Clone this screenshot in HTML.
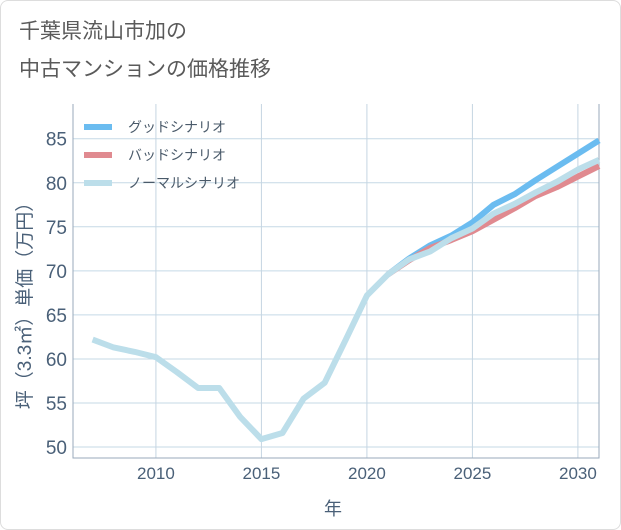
<!DOCTYPE html>
<html><head><meta charset="utf-8"><style>
body{margin:0;background:#fff;font-family:"Liberation Sans","Noto Sans CJK JP",sans-serif}
#wrap{position:relative;width:619px;height:528px;border:1px solid #ddd;border-radius:8px;overflow:hidden}
.t{position:absolute;left:18px;font-size:21px;color:#5a5a5a}
</style></head><body>
<div id="wrap">
<div class="t" style="top:14px">千葉県流山市加の</div>
<div class="t" style="top:52px">中古マンションの価格推移</div>
<svg id="c" width="621" height="530" style="position:absolute;left:0;top:0"></svg>
</div>
<script>
const years=[2007,2008,2009,2010,2011,2012,2013,2014,2015,2016,2017,2018,2019,2020,2021,2022,2023,2024,2025,2026,2027,2028,2029,2030,2031];
const normal=[62.2,61.3,60.8,60.2,58.5,56.7,56.7,53.4,50.9,51.6,55.5,57.3,62.2,67.2,69.6,71.3,72.2,73.7,74.8,76.5,77.6,78.9,80.1,81.5,82.6];
const futureYears=[2021,2022,2023,2024,2025,2026,2027,2028,2029,2030,2031];
const good=[69.6,71.4,72.9,74.0,75.5,77.5,78.7,80.3,81.8,83.3,84.8];
const bad=[69.6,71.2,72.6,73.5,74.5,75.8,77.1,78.5,79.5,80.7,81.9];
const xTicks=[2010,2015,2020,2025,2030];
const yTicks=[50,55,60,65,70,75,80,85];
const L=72,R=598,T=103,B=457;
const X=v=>L+(v-2006.07)*(R-L)/(2031-2006.07);
const Y=v=>137.7+(85-v)*8.81;
const s=document.getElementById('c');const NS='http://www.w3.org/2000/svg';
function mk(t,a,p){const e=document.createElementNS(NS,t);for(const k in a)e.setAttribute(k,a[k]);(p||s).appendChild(e);return e;}
for(const v of yTicks){const l=mk('line',{x1:L,x2:R,y1:Y(v),y2:Y(v),stroke:'#c5d9e6','stroke-width':1});


const t=mk('text',{x:L-6,y:Y(v)+7,'text-anchor':'end','font-size':19,fill:'#4a6078'});t.textContent=v;

}
for(const v of xTicks){const l=mk('line',{x1:X(v),x2:X(v),y1:T,y2:B,stroke:'#c5d5e2','stroke-width':1});


const t=mk('text',{x:X(v),y:B+21,'text-anchor':'middle','font-size':17,fill:'#4a6078'});t.textContent=v;

}
const ax=mk('polyline',{points:`${L},${T} ${L},${B} ${R},${B} ${R},${T}`,fill:'none',stroke:'#9aaabb','stroke-width':1});


function line(xs,ys,c,n){const p=mk('polyline',{points:xs.map((x,i)=>X(x)+','+Y(ys[i])).join(' '),fill:'none',stroke:c,'stroke-width':6,'stroke-linejoin':'round'});

}
line(futureYears,good,'#6bbcf0','good-scenario-line');
line(futureYears,bad,'#e08a90','bad-scenario-line');
line(years,normal,'#bcdeea','normal-scenario-line');
const leg=[['グッドシナリオ','#6bbcf0'],['バッドシナリオ','#e08a90'],['ノーマルシナリオ','#bcdeea']];
leg.forEach((d,i)=>{const y=126+i*28;const l=mk('line',{x1:83,x2:111,y1:y,y2:y,stroke:d[1],'stroke-width':6});


const t=mk('text',{x:127,y:y+5,'font-size':14,fill:'#4a5a6a'});t.textContent=d[0];

});
const yt=mk('text',{transform:'translate(30,300) rotate(-90)','text-anchor':'middle','font-size':19,fill:'#4a6078'});yt.textContent='坪（3.3㎡）単価（万円）';


const xt=mk('text',{x:332,y:514,'text-anchor':'middle','font-size':18,fill:'#4a6078'});xt.textContent='年';


</script>
</body></html>
